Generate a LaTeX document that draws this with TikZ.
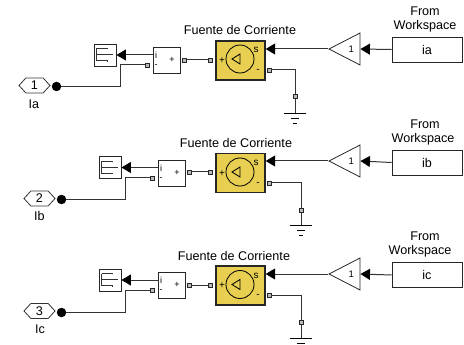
\documentclass[tikz,border=0pt]{standalone}
\usepackage{fontspec}
\setmainfont{Liberation Sans}
\usetikzlibrary{shapes.geometric, shapes.symbols, positioning, arrows.meta}
\definecolor{amarillo}{HTML}{E8CF52}
\tikzset{
  x=1pt, y=-1pt,
  txt/.style={font=\fontsize{12.6}{14}\selectfont, inner sep=0pt},
  txtport/.style={font=\fontsize{9}{10}\selectfont, inner sep=0pt},
  hexa/.style={signal, signal to=east and west, signal pointer angle=95, draw=black!80, thick, minimum width=31pt, minimum height=15pt, inner sep=0pt, font=\fontsize{12.6}{14}\selectfont},
  punto/.style={circle, fill=black, minimum size=9.5pt, inner sep=0pt},
  scopebox/.style={rectangle, draw=black!85, line width=0.9pt, minimum width=22pt, minimum height=22pt, inner sep=0pt,
    path picture={\draw[black!80, line width=0.7pt] (path picture bounding box.center) ++(-8.5,-6.5) -- ++(11,0) ++(-11,0) -- ++(0,12) -- ++(11,0) -- ++(0,1.5) ++(-11,-7.5) -- ++(16,0);}},
  sumbox/.style={rectangle, draw=black!85, line width=0.9pt, minimum width=27pt, minimum height=26pt, inner sep=0pt},
  fuente/.style={rectangle, draw=black!85, fill=amarillo, line width=1.3pt, minimum width=49pt, minimum height=39pt, inner sep=0pt},
  fuentecirc/.style={circle, draw=black, line width=0.8pt, minimum size=28pt, inner sep=0pt,
    path picture={\draw[black, line width=0.8pt] (path picture bounding box.center) ++(-8,0) -- ++(8,-5) -- ++(0,10) -- cycle ++(8,0) -- ++(10,0);}},
  ganancia/.style={isosceles triangle, isosceles triangle stretches, shape border rotate=180, draw=black!85, line width=0.8pt, minimum width=32pt, minimum height=31pt, inner sep=0pt, anchor=apex, font=\fontsize{9.5}{10}\selectfont},
  fwbox/.style={rectangle, draw=black!85, line width=0.9pt, minimum width=70pt, minimum height=25pt, inner sep=0pt, font=\fontsize{12.6}{14}\selectfont},
  puerto/.style={rectangle, draw=black!85, fill=gray!55, line width=0.8pt, minimum size=4pt, inner sep=0pt},
  tierra/.style={rectangle, minimum width=23pt, minimum height=11pt, inner sep=0pt, anchor=north,
    path picture={\draw[black, line width=0.8pt] (path picture bounding box.north) ++(-11,0.5) -- ++(22,0) ++(-15,4.5) -- ++(8,0) ++(-6,5) -- ++(4,0);}},
  wire/.style={black!80, line width=1pt},
  arrow/.style={black!80, line width=1pt, -{Triangle[length=9.5pt, width=11pt, black]}}
}
\begin{document}
\begin{tikzpicture}
        \useasboundingbox (0,0) rectangle (464,345);

        % Fila a
        \node[hexa] (hexa) at (34.5,85.5) {1};
        \node[txt] (nomba) at (34,104) {Ia};
        \node[punto] (puntoa) at (56.5,86.5) {};
        \node[scopebox] (scopea) at (105,55) {};
        \node[sumbox] (suma) at (166.5,60) {};
        \node[txtport] (sumia) at (156,55) {i};
        \node[txtport] (summa) at (156,66) {-};
        \node[txtport] (sumpa) at (172,60) {+};
        \node[puerto] (pina) at (147,65) {};
        \node[puerto] (psuma) at (184,60) {};
        \node[puerto] (pfuea) at (210,60) {};
        \node[fuente] (fuentea) at (240.5,60.5) {};
        \node[txt] (titua) at (240,30) {Fuente de Corriente};
        \node[fuentecirc] (circa) at (240,59) {};
        \node[txtport, font=\fontsize{10}{10}\selectfont] (fsa) at (256,50) {s};
        \node[txtport, font=\fontsize{10}{10}\selectfont] (fpa) at (222,61) {+};
        \node[txtport, font=\fontsize{10}{10}\selectfont] (fma) at (258,71) {-};
        \node[ganancia] (gana) at (328,49) {1};
        \node[fwbox] (fwa) at (427,49.5) {ia};
        \node[txt] (froma) at (425,11) {From};
        \node[txt] (worka) at (425,26) {Workspace};
        \node[puerto] (psala) at (269,70) {};
        \node[puerto] (ptiea) at (295,96) {};
        \node[tierra] (tierraa) at (295,113) {};
        \coordinate (codoa) at (120,86.5);
        \draw[wire] (pina.west) -| (codoa) -- (puntoa);
        \draw[arrow] (suma.west |- scopea.east) -- (scopea.east);
        \draw[wire] (psuma) -- (pfuea);
        \draw[arrow] (gana.apex) -- (gana.apex -| fuentea.east);
        \draw[arrow] (fwa.west) -- (gana.east);
        \draw[wire] (psala.east) -| (ptiea.north);
        \draw[wire] (ptiea.south) -- (tierraa.north);

        % Fila b
        \node[hexa] (hexb) at (39.5,198.5) {2};
        \node[txt] (nombb) at (39.5,216) {Ib};
        \node[punto] (puntob) at (61.5,199.5) {};
        \node[scopebox] (scopeb) at (110,167.5) {};
        \node[sumbox] (sumb) at (171.5,173) {};
        \node[txtport] (sumib) at (161,168) {i};
        \node[txtport] (summb) at (161,179) {-};
        \node[txtport] (sumpb) at (177,173) {+};
        \node[puerto] (pinb) at (152,178) {};
        \node[puerto] (psumb) at (189,172) {};
        \node[puerto] (pfueb) at (210,172) {};
        \node[fuente] (fuenteb) at (240.5,173) {};
        \node[txt] (titub) at (236,143) {Fuente de Corriente};
        \node[fuentecirc] (circb) at (240,172) {};
        \node[txtport, font=\fontsize{10}{10}\selectfont] (fsb) at (256,163) {s};
        \node[txtport, font=\fontsize{10}{10}\selectfont] (fpb) at (222,173.5) {+};
        \node[txtport, font=\fontsize{10}{10}\selectfont] (fmb) at (258,184) {-};
        \node[ganancia] (ganb) at (328,161) {1};
        \node[fwbox] (fwb) at (427,162.5) {ib};
        \node[txt] (fromb) at (425,124) {From};
        \node[txt] (workb) at (423,139) {Workspace};
        \node[puerto] (psalb) at (269,183) {};
        \node[puerto] (ptieb) at (301,210) {};
        \node[tierra] (tierrab) at (301,225) {};
        \coordinate (codob) at (125,199.5);
        \draw[wire] (pinb.west) -| (codob) -- (puntob);
        \draw[arrow] (sumb.west |- scopeb.east) -- (scopeb.east);
        \draw[wire] (psumb) -- (pfueb);
        \draw[arrow] (ganb.apex) -- (ganb.apex -| fuenteb.east);
        \draw[arrow] (fwb.west) -- (ganb.east);
        \draw[wire] (psalb.east) -| (ptieb.north);
        \draw[wire] (ptieb.south) -- (tierrab.north);

        % Fila c
        \node[hexa] (hexc) at (39.5,311) {3};
        \node[txt] (nombc) at (40,329) {Ic};
        \node[punto] (puntoc) at (61.5,312.5) {};
        \node[scopebox] (scopec) at (110,280) {};
        \node[sumbox] (sumc) at (171.5,285) {};
        \node[txtport] (sumic) at (161,280) {i};
        \node[txtport] (summc) at (161,291) {-};
        \node[txtport] (sumpc) at (177,285) {+};
        \node[puerto] (pinc) at (152,290) {};
        \node[puerto] (psumc) at (189,285) {};
        \node[puerto] (pfuec) at (210,285) {};
        \node[fuente] (fuentec) at (240.5,285.5) {};
        \node[txt] (tituc) at (234,256) {Fuente de Corriente};
        \node[fuentecirc] (circc) at (240,284.5) {};
        \node[txtport, font=\fontsize{10}{10}\selectfont] (fsc) at (256,276) {s};
        \node[txtport, font=\fontsize{10}{10}\selectfont] (fpc) at (222,286) {+};
        \node[txtport, font=\fontsize{10}{10}\selectfont] (fmc) at (258,296) {-};
        \node[ganancia] (ganc) at (328,274) {1};
        \node[fwbox] (fwc) at (427,275) {ic};
        \node[txt] (fromc) at (425,236) {From};
        \node[txt] (workc) at (420,251) {Workspace};
        \node[puerto] (psalc) at (269,295) {};
        \node[puerto] (ptiec) at (301,322) {};
        \node[tierra] (tierrac) at (301,338) {};
        \coordinate (codoc) at (125,312.5);
        \draw[wire] (pinc.west) -| (codoc) -- (puntoc);
        \draw[arrow] (sumc.west |- scopec.east) -- (scopec.east);
        \draw[wire] (psumc) -- (pfuec);
        \draw[arrow] (ganc.apex) -- (ganc.apex -| fuentec.east);
        \draw[arrow] (fwc.west) -- (ganc.east);
        \draw[wire] (psalc.east) -| (ptiec.north);
        \draw[wire] (ptiec.south) -- (tierrac.north);
    \end{tikzpicture}
\end{document}
